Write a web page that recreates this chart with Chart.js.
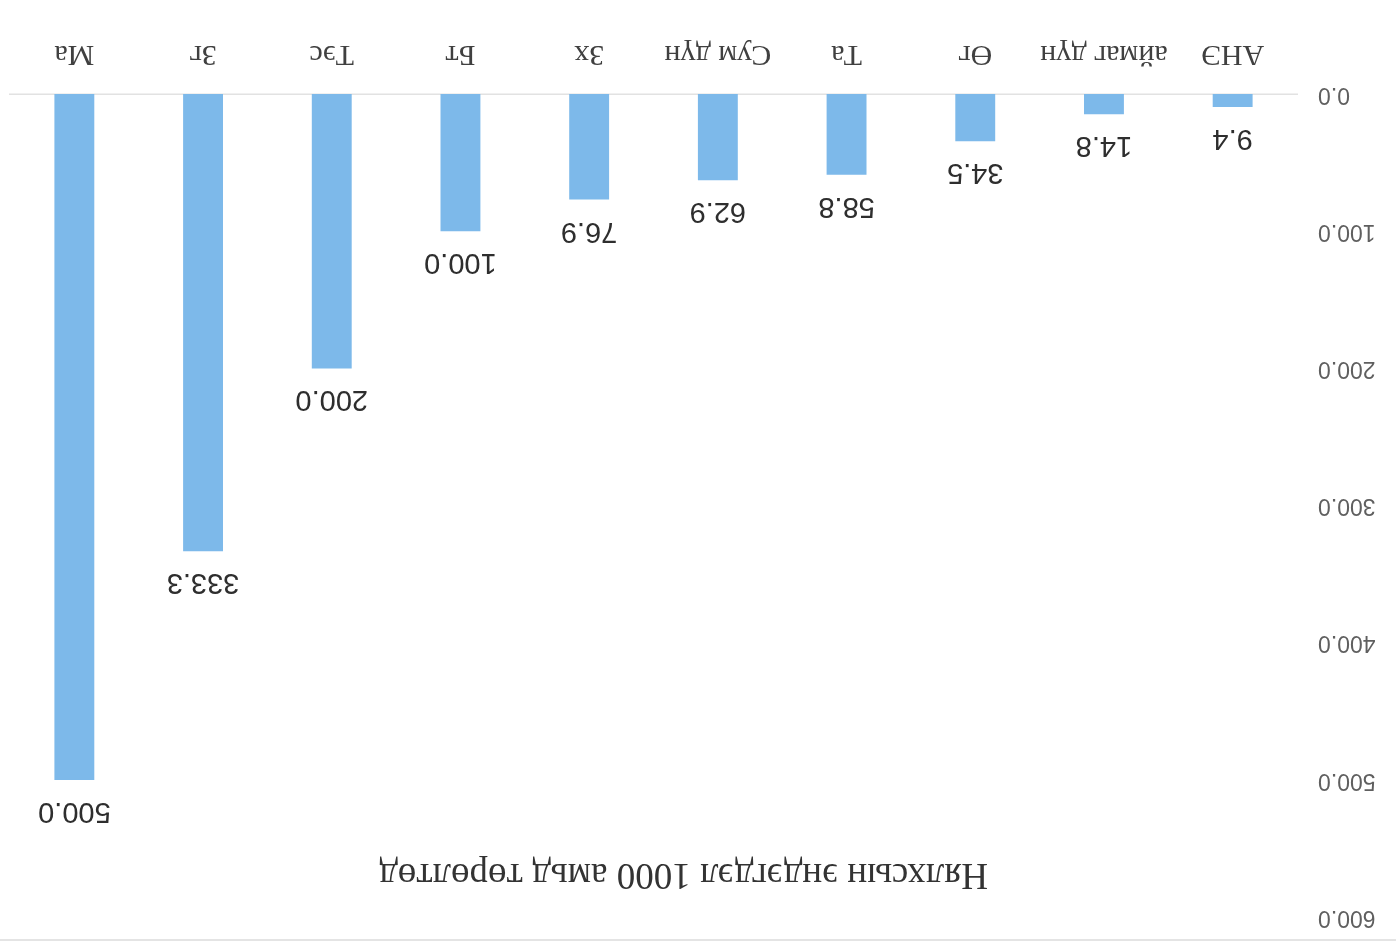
<!DOCTYPE html>
<html>
<head>
<meta charset="utf-8">
<script src="https://cdn.jsdelivr.net/npm/chart.js@4"></script>
<style>
  html,body{margin:0;padding:0;background:#fff;}
  #wrap{width:1396px;height:944px;transform:rotate(180deg);}
  canvas{display:block;}
</style>
</head>
<body>
<div id="wrap"><canvas id="c" width="1396" height="944"></canvas></div>
<script>
const categories = ['АНЭ', 'аймаг дүн', 'Өг', 'Та', 'Сум дүн', 'Зх', 'Бт', 'Тэс', 'Зг', 'Ма'];
const values = [9.4, 14.8, 34.5, 58.8, 62.9, 76.9, 100.0, 200.0, 333.3, 500.0];
const yTicks = [0, 100, 200, 300, 400, 500, 600];
const titleText = 'Нялхсын эндэгдэл 1000 амьд төрөлтөд';

const valueLabels = {
  id: 'valueLabels',
  afterDatasetsDraw(chart) {
    const ctx = chart.ctx;
    const meta = chart.getDatasetMeta(0);
    ctx.save();
    ctx.font = '29px "Liberation Sans", Arial, sans-serif';
    ctx.fillStyle = '#2e2e2e';
    ctx.textAlign = 'center';
    ctx.textBaseline = 'middle';
    meta.data.forEach((bar, i) => {
      ctx.fillText(values[i].toFixed(1), bar.x, bar.y - 31);
    });
    ctx.restore();
  }
};

const overlayTitle = {
  id: 'overlayTitle',
  afterDraw(chart) {
    const ctx = chart.ctx;
    const a = chart.chartArea;
    ctx.save();
    ctx.font = '37px "Liberation Serif", "Times New Roman", serif';
    ctx.fillStyle = '#333333';
    ctx.textAlign = 'center';
    ctx.textBaseline = 'middle';
    ctx.fillText(titleText, (a.left + a.right) / 2 - 30, 70);
    ctx.restore();
  }
};

const bgPlugin = {
  id: 'bg',
  beforeDraw(chart) {
    const ctx = chart.ctx;
    ctx.save();
    ctx.fillStyle = '#ffffff';
    ctx.fillRect(0, 0, chart.width, chart.height);
    ctx.strokeStyle = '#e4e4e4';
    ctx.lineWidth = 2;
    ctx.beginPath();
    ctx.moveTo(0, 4); ctx.lineTo(chart.width, 4);
    ctx.stroke();
    ctx.restore();
  }
};

new Chart(document.getElementById('c'), {
  type: 'bar',
  data: {
    labels: categories,
    datasets: [{
      data: values,
      backgroundColor: '#7db9ea',
      borderWidth: 0,
      categoryPercentage: 1.0,
      barPercentage: 0.31
    }]
  },
  options: {
    responsive: false,
    animation: false,
    devicePixelRatio: 1,
    layout: { padding: { top: 26, right: 10, left: 0, bottom: 0 } },
    plugins: { legend: { display: false }, tooltip: { enabled: false }, title: { display: false } },
    scales: {
      x: {
        grid: { display: false },
        border: { display: true, color: '#e2e2e2', width: 1.5 },
        ticks: {
          color: '#404040',
          font: { family: '"Liberation Serif", "Times New Roman", serif', size: 30 },
          padding: 14,
          maxRotation: 0,
          autoSkip: false
        },
        afterFit(scale) { scale.height = 94; }
      },
      y: {
        min: 0,
        max: 600,
        afterBuildTicks(scale) { scale.ticks = yTicks.map(v => ({ value: v })); },
        grid: { display: false },
        border: { display: false },
        ticks: {
          color: '#5f5f5f',
          font: { family: '"Liberation Sans", Arial, sans-serif', size: 23 },
          padding: 13,
          callback: v => Number(v).toFixed(1)
        },
        afterFit(scale) { scale.width = 99; }
      }
    }
  },
  plugins: [bgPlugin, valueLabels, overlayTitle]
});
</script>
</body>
</html>
